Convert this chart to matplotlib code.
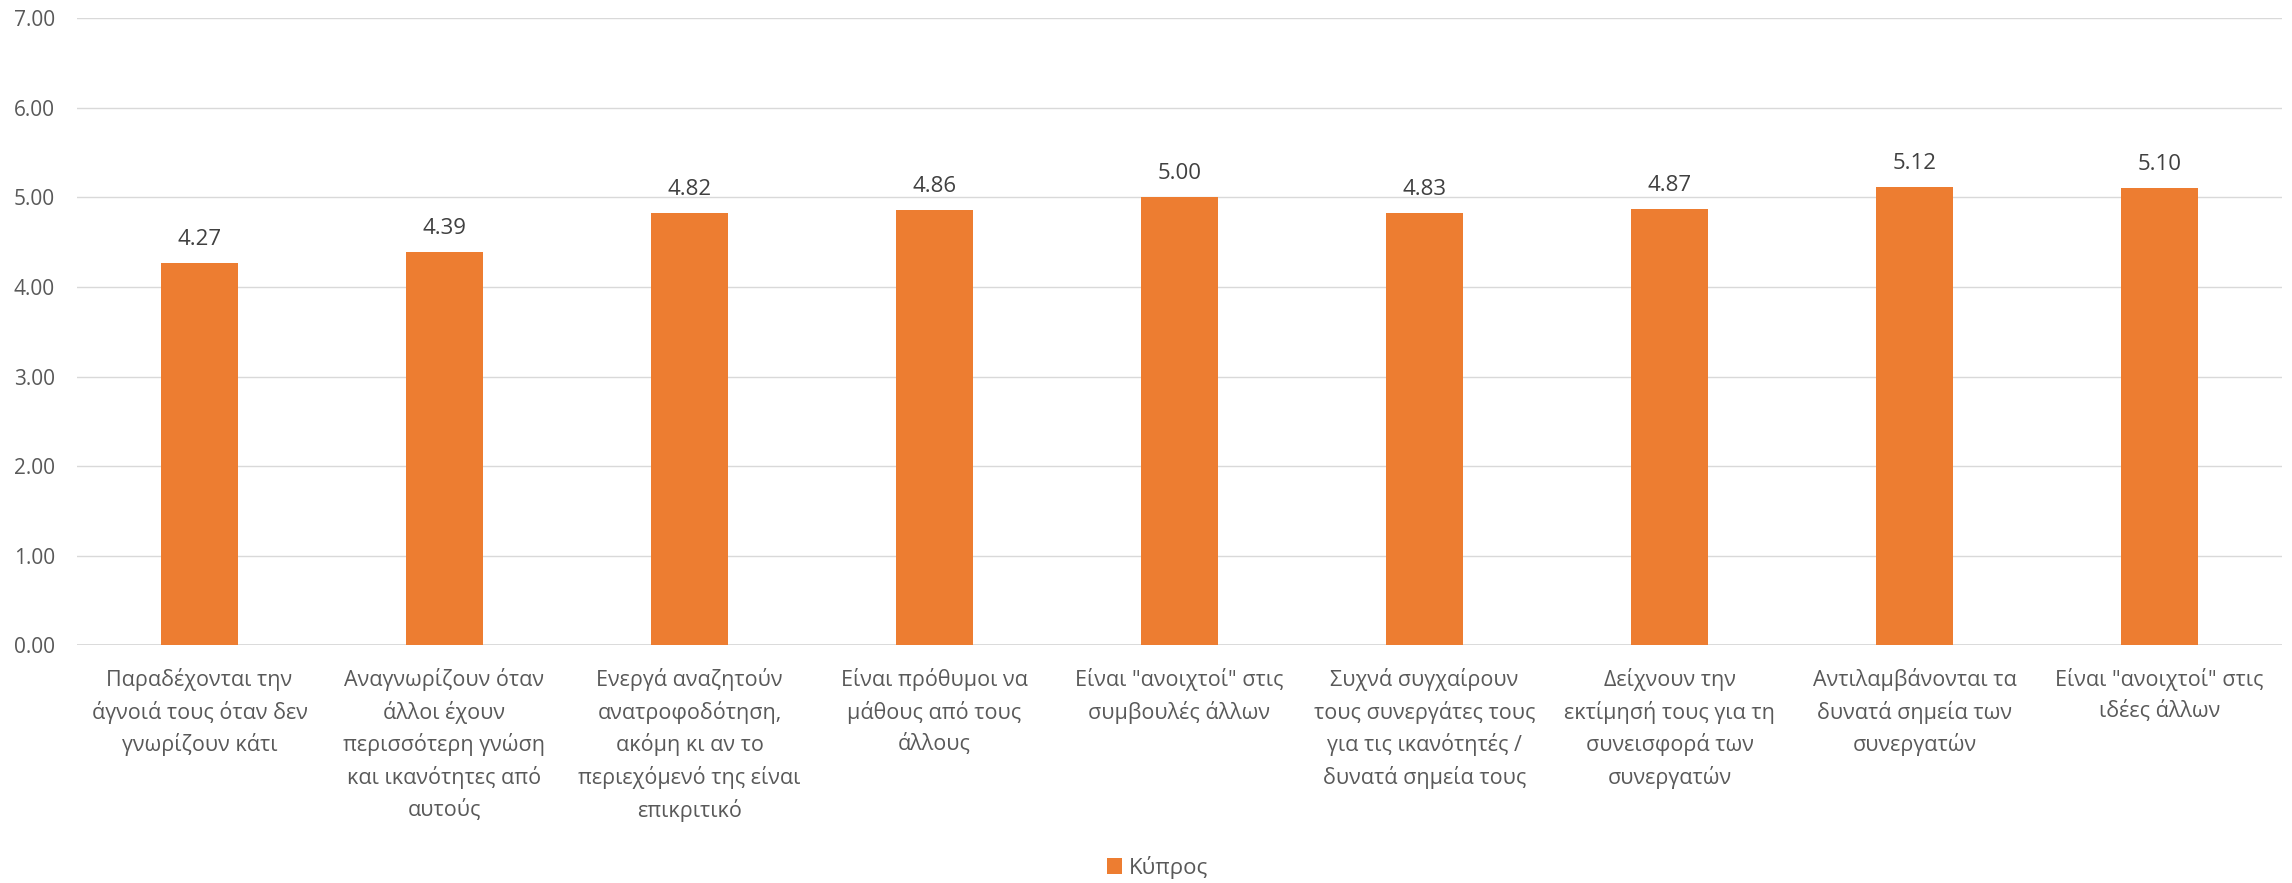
import matplotlib
matplotlib.use("Agg")
import matplotlib.pyplot as plt
import numpy as np

# values
categories = [
    "Παραδέχονται την\nάγνοιά τους όταν δεν\nγνωρίζουν κάτι",
    "Αναγνωρίζουν όταν\nάλλοι έχουν\nπερισσότερη γνώση\nκαι ικανότητες από\nαυτούς",
    "Ενεργά αναζητούν\nανατροφοδότηση,\nακόμη κι αν το\nπεριεχόμενό της είναι\nεπικριτικό",
    "Είναι πρόθυμοι να\nμάθους από τους\nάλλους",
    "Είναι \"ανοιχτοί\" στις\nσυμβουλές άλλων",
    "Συχνά συγχαίρουν\nτους συνεργάτες τους\nγια τις ικανότητές /\nδυνατά σημεία τους",
    "Δείχνουν την\nεκτίμησή τους για τη\nσυνεισφορά των\nσυνεργατών",
    "Αντιλαμβάνονται τα\nδυνατά σημεία των\nσυνεργατών",
    "Είναι \"ανοιχτοί\" στις\nιδέες άλλων",
]
values = [4.27, 4.39, 4.82, 4.86, 5.00, 4.83, 4.87, 5.12, 5.10]
series_name = "Κύπρος"
yticks = [0, 1, 2, 3, 4, 5, 6, 7]

plt.rcParams["font.family"] = ["Open Sans", "DejaVu Sans"]

fig = plt.figure(figsize=(22.92, 8.83), dpi=100)
ax = fig.add_axes([0.0336, 0.2690, 0.9620, 0.7105])

x = np.arange(len(values))
bars = ax.bar(x, values, width=0.312, color="#ED7D31", zorder=3, label=series_name)

for xi, v in zip(x, values):
    ax.annotate(f"{v:.2f}", (xi, v), xytext=(0, 13), textcoords="offset points",
                ha="center", va="baseline", fontsize=16, color="#404040")

ax.set_xlim(-0.5, len(values) - 0.5)
ax.set_ylim(0, 7)
ax.set_yticks(yticks)
ax.set_yticklabels([f"{t:.2f}" for t in yticks])
ax.set_xticks(x)
ax.set_xticklabels(categories, fontsize=15.5, color="#595959", linespacing=1.55, va="top")

ax.tick_params(axis="y", length=0, pad=16, labelsize=15, labelcolor="#595959")
ax.tick_params(axis="x", length=0, pad=16)
ax.grid(axis="y", color="#D9D9D9", linewidth=1.0, zorder=0)
for s in ax.spines.values():
    s.set_visible(False)
ax.axhline(0, color="#D9D9D9", linewidth=1.3, zorder=2)

fig.legend(handles=[bars], labels=[series_name], loc="center", bbox_to_anchor=(0.505, 0.018),
           frameon=False, fontsize=16, labelcolor="#595959",
           handlelength=0.7, handleheight=0.7, handletextpad=0.3)

fig.savefig("out.png", dpi=100)
plt.close()
